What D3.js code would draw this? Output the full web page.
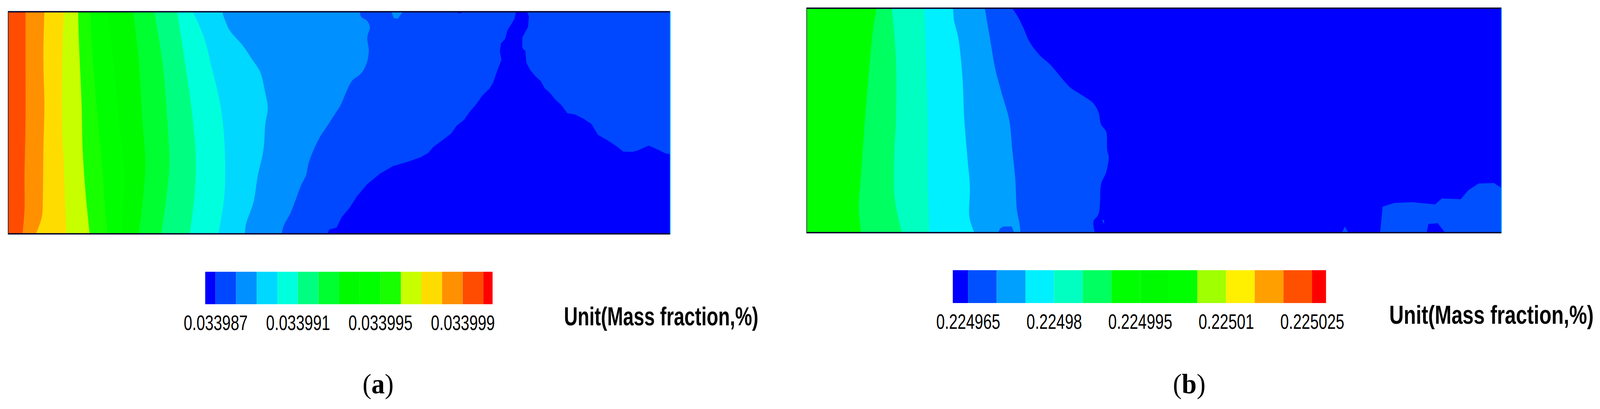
<!DOCTYPE html>
<meta charset="utf-8">
<title>Mass fraction contours</title>
<script src="https://d3js.org/d3.v7.min.js"></script>
<style>
body { margin: 0; background: #fff; overflow: hidden; }
svg { display: block; width: 100vw; height: 100vh; }
text { fill: #000; }
</style>
<div id="my_dataviz"></div>
<script>

// ---- panel (a) ----
var aTicks = [0.033987, 0.033991, 0.033995, 0.033999];
var aLevels = [0.033987, 0.033988, 0.033989, 0.03399, 0.033991, 0.033992, 0.033993, 0.033994, 0.033995, 0.033996, 0.033997, 0.033998, 0.033999, 0.034];
var aColors = ["#0000ff", "#0048ff", "#0090ff", "#00d8ff", "#00ffdc", "#00ff80", "#00ff30", "#00fb00", "#00ff00", "#18ff00", "#c8ff00", "#ffdc00", "#ff9000", "#ff4c00", "#ff0000"];
var aExtent = [0.0339865, 0.03400045];

// isolines, in domain units (length, height); region on the left of each one is at or above the level
var aLine33988 = [[705,75],[708,110],[720,140],[725,180],[720,250],[723,340],[718,430],[708,490],[690,540],[678,620],[668,700],[655,770],[640,850],[628,910],[615,1000],[605,1090],[600,1170],[590,1240],[578,1350],[570,1420],[556,1510],[552,1565]];
var aLine33989 = [[435,75],[450,200],[475,300],[495,400],[510,480],[520,620],[525,720],[520,830],[518,950],[515,1030],[505,1180],[497,1350],[482,1500],[480,1565]];
var aLine33990 = [[378,75],[400,250],[415,450],[432,700],[440,950],[440,1300],[428,1565]];
var aLine33991 = [[347,75],[362,400],[378,800],[384,1100],[380,1350],[372,1565]];
var aLine33992 = [[302,75],[318,400],[328,800],[332,1100],[325,1350],[316,1565]];
var aLine33993 = [[261,75],[272,400],[279,800],[285,1100],[278,1400],[272,1565]];
var aLine33994 = [[210,75],[222,400],[233,800],[242,1100],[241,1400],[239,1565]];
var aLine33995 = [[177,75],[182,400],[192,800],[200,1100],[205,1350],[211,1565]];
var aLine33996 = [[153,75],[155,300],[160,700],[162,1000],[168,1300],[176,1565]];
var aLine33997 = [[125,75],[122,400],[122,900],[125,1100],[128,1400],[130,1565]];
var aLine33998 = [[87,75],[85,400],[87,700],[85,1000],[84,1300],[82,1450],[70,1565]];
var aLine33999 = [[50,75],[50,400],[50,800],[48,1200],[48,1400],[44,1565]];

// closed patches: lowest band wedge and two little spots at the top wall
var aLow = [[1012,75],[1008,130],[995,200],[990,260],[982,290],[980,340],[983,400],[975,470],[967,550],[960,590],[945,640],[935,690],[920,750],[910,800],[895,840],[885,890],[870,930],[850,980],[840,1020],[825,1050],[800,1080],[770,1110],[745,1160],[720,1230],[700,1310],[685,1390],[670,1450],[660,1520],[645,1535],[642,1565],[1314,1565],[1314,1030],[1305,1025],[1290,1000],[1272,972],[1250,1005],[1240,1015],[1222,1013],[1210,980],[1190,935],[1172,900],[1160,830],[1145,795],[1128,765],[1112,755],[1100,700],[1090,670],[1078,620],[1068,590],[1060,540],[1050,510],[1040,470],[1032,420],[1030,340],[1024,320],[1024,250],[1035,180],[1037,110],[1033,75]];
var aSpotHigh = [[767,75],[772,120],[780,124],[790,75]];
var aSpotLow = [[897,75],[905,75],[905,87],[897,87]];

// ---- panel (b) ----
var bTicks = [0.224965, 0.22498, 0.224995, 0.22501, 0.225025];
var bLevels = [0.224965, 0.22497, 0.224975, 0.22498, 0.224985, 0.22499, 0.224995, 0.225, 0.225005, 0.22501, 0.225015, 0.22502, 0.225025];
var bColors = ["#0000ff", "#0050ff", "#00a0ff", "#00f0ff", "#00ffc0", "#00ff60", "#00ff00", "#00fb00", "#00ff00", "#a0ff00", "#fff000", "#ffa000", "#ff5000", "#ff0000"];
var bExtent = [0.22496234, 0.22502743];

var bLine24970 = [[415,52],[425,100],[437,180],[450,280],[470,370],[490,430],[510,510],[530,585],[555,640],[575,690],[585,750],[590,830],[600,880],[602,1000],[605,1050],[600,1150],[590,1230],[588,1350],[585,1430],[575,1480],[578,1556]];
var bLine24975 = [[362,52],[372,250],[382,450],[395,620],[410,800],[416,1000],[422,1200],[425,1400],[430,1490],[432,1556]];
var bLine24980 = [[300,52],[302,140],[310,250],[318,500],[322,800],[328,1050],[333,1250],[332,1450],[342,1556]];
var bLine24985 = [[244,52],[247,400],[250,800],[250,1200],[252,1400],[253,1556]];
var bLine24990 = [[180,52],[188,400],[188,800],[185,1000],[185,1300],[192,1450],[200,1556]];
var bLine24995 = [[150,52],[143,200],[132,600],[125,900],[120,1150],[115,1400],[120,1556]];

var bBlobRight = [[1137,1556],[1142,1380],[1165,1355],[1200,1350],[1245,1365],[1258,1325],[1295,1330],[1310,1270],[1330,1225],[1360,1222],[1375,1255],[1375,1556]];
var bHole = [[1228,1556],[1232,1495],[1250,1490],[1265,1556]];
var bBump = [[388,1556],[392,1525],[398,1512],[415,1512],[420,1556]];
var bNub = [[1062,1556],[1068,1512],[1075,1556]];
var bSliver = [[592,1470],[596,1470],[596,1497]];

var unitLabel = "Unit(Mass fraction,%)";

// the window comes out narrower than the figure, so draw in figure units and let the viewBox fit it
var svg = d3.select("#my_dataviz")
  .append("svg")
    .attr("viewBox", "0 0 4304 1046")
    .attr("preserveAspectRatio", "none");

// squeeze text horizontally, the original figure was stretched
function squeeze(sel, k) {
  sel.attr("transform", "scale(" + k + ",1)");
}

function drawField(p) {
  var x = d3.scaleLinear().domain(p.xDomain).range(p.xRange);
  var y = d3.scaleLinear().domain(p.yDomain).range(p.yRange);
  var color = d3.scaleThreshold().domain(p.levels).range(p.colors);
  var line = d3.line().x(function(d) { return x(d[0]); }).y(function(d) { return y(d[1]); });
  var smooth = d3.line().curve(d3.curveCatmullRom).x(function(d) { return x(d[0]); }).y(function(d) { return y(d[1]); });
  var g = svg.append("g");

  g.append("rect")
    .attr("x", p.xRange[0])
    .attr("y", p.yRange[0])
    .attr("width", p.xRange[1] - p.xRange[0])
    .attr("height", p.yRange[1] - p.yRange[0])
    .attr("fill", color(p.base));

  // patches under the isolines
  p.under.forEach(function(d) {
    g.append("path").attr("d", line(d.pts) + "Z").attr("fill", color(d.level));
  });

  // every isoline closes back along the left wall, highest level painted last
  p.isolines.forEach(function(d) {
    var wall = "L" + p.xRange[0] + "," + p.yRange[1] + "L" + p.xRange[0] + "," + p.yRange[0] + "Z";
    g.append("path").attr("d", smooth(d.pts) + wall).attr("fill", color(d.level));
  });

  p.over.forEach(function(d) {
    g.append("path").attr("d", line(d.pts) + "Z").attr("fill", color(d.level));
  });

  // walls
  g.append("line")
    .attr("x1", p.xRange[0] - 1).attr("x2", p.xRange[1])
    .attr("y1", p.yRange[0] + 1).attr("y2", p.yRange[0] + 1)
    .attr("stroke", "#00002a").attr("stroke-width", 3.5);
  g.append("line")
    .attr("x1", p.xRange[0] - 1).attr("x2", p.xRange[1])
    .attr("y1", p.yRange[1] - 1).attr("y2", p.yRange[1] - 1)
    .attr("stroke", "#00002a").attr("stroke-width", 3.5);
  g.append("line")
    .attr("x1", p.xRange[0]).attr("x2", p.xRange[0])
    .attr("y1", p.yRange[0]).attr("y2", p.yRange[1])
    .attr("stroke", "#333").attr("stroke-width", 2);
  g.append("line")
    .attr("x1", p.xRange[1]).attr("x2", p.xRange[1])
    .attr("y1", p.yRange[0]).attr("y2", p.yRange[1])
    .attr("stroke", "#00c8ff").attr("stroke-width", 2);
}

function drawLegend(p) {
  var x = d3.scaleLinear().domain(p.extent).range(p.range);
  var edges = [p.extent[0]].concat(p.levels, [p.extent[1]]);

  svg.append("g").selectAll("rect")
    .data(p.colors)
    .enter()
    .append("rect")
      .attr("x", function(d, i) { return x(edges[i]); })
      .attr("y", p.top)
      .attr("width", function(d, i) { return x(edges[i + 1]) - x(edges[i]); })
      .attr("height", p.height)
      .attr("fill", function(d) { return d; });

  var axis = svg.append("g")
    .attr("transform", "translate(0," + (p.top + p.height) + ")")
    .call(d3.axisBottom(x).tickValues(p.ticks).tickSize(0).tickPadding(p.pad)
      .tickFormat(function(d) { return String(d); }));
  axis.select(".domain").remove();
  axis.selectAll("text")
    .attr("font-family", "'Liberation Sans', Arial, sans-serif")
    .attr("font-size", 53)
    .call(squeeze, 0.78);

  var unit = svg.append("g")
    .attr("transform", "translate(" + p.unitX + "," + p.unitY + ")")
    .append("text")
      .attr("font-family", "'Liberation Sans', Arial, sans-serif")
      .attr("font-size", 66)
      .attr("font-weight", "bold")
      .text(unitLabel);
  unit.call(squeeze, p.unitW / unit.node().getComputedTextLength());

  // panel letter
  var cap = svg.append("text")
    .attr("x", p.capX)
    .attr("y", p.capY)
    .attr("text-anchor", "middle")
    .attr("font-family", "'Liberation Serif', 'Times New Roman', serif")
    .attr("font-size", 72);
  cap.append("tspan").text("(");
  cap.append("tspan").attr("font-weight", "bold").text(p.letter);
  cap.append("tspan").text(")");
}

drawField({
  xDomain: [16, 1314], yDomain: [75, 1565],
  xRange: [22, 1803], yRange: [29, 599],
  levels: aLevels, colors: aColors, base: 0.033987,
  under: [{level: 0.033986, pts: aLow}],
  isolines: [
    {level: 0.033988, pts: aLine33988},
    {level: 0.033989, pts: aLine33989},
    {level: 0.03399, pts: aLine33990},
    {level: 0.033991, pts: aLine33991},
    {level: 0.033992, pts: aLine33992},
    {level: 0.033993, pts: aLine33993},
    {level: 0.033994, pts: aLine33994},
    {level: 0.033995, pts: aLine33995},
    {level: 0.033996, pts: aLine33996},
    {level: 0.033997, pts: aLine33997},
    {level: 0.033998, pts: aLine33998},
    {level: 0.033999, pts: aLine33999}
  ],
  over: [{level: 0.033988, pts: aSpotHigh}, {level: 0.033986, pts: aSpotLow}]
});

drawField({
  xDomain: [13, 1375], yDomain: [52, 1556],
  xRange: [2170, 4039], yRange: [20, 596],
  levels: bLevels, colors: bColors, base: 0.22496,
  under: [
    {level: 0.224965, pts: bBlobRight},
    {level: 0.22496, pts: bHole},
    {level: 0.224965, pts: bNub}
  ],
  isolines: [
    {level: 0.224965, pts: bLine24970},
    {level: 0.22497, pts: bLine24975},
    {level: 0.224975, pts: bLine24980},
    {level: 0.22498, pts: bLine24985},
    {level: 0.224985, pts: bLine24990},
    {level: 0.22499, pts: bLine24995}
  ],
  over: [{level: 0.224965, pts: bBump}, {level: 0.224965, pts: bSliver}]
});

drawLegend({
  extent: aExtent, levels: aLevels, colors: aColors, ticks: aTicks,
  range: [552, 1325], top: 695, height: 83, pad: 28,
  unitX: 1517, unitY: 832, unitW: 523,
  capX: 1017, capY: 1006, letter: "a"
});

drawLegend({
  extent: bExtent, levels: bLevels, colors: bColors, ticks: bTicks,
  range: [2563, 3567], top: 691, height: 84, pad: 28,
  unitX: 3737, unitY: 828, unitW: 550,
  capX: 3199, capY: 1006, letter: "b"
});

</script>
